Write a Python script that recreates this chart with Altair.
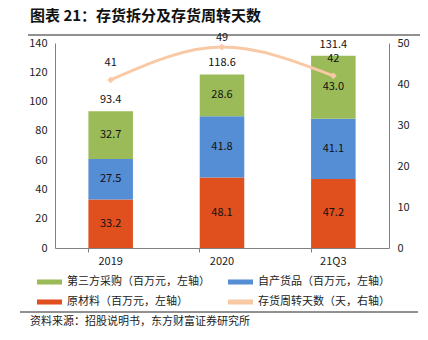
import altair as alt
import pandas as pd

years = ["2019", "2020", "21Q3"]
raw_material = [33.2, 48.1, 47.2]
own_goods = [27.5, 41.8, 41.1]
third_party = [32.7, 28.6, 43.0]
totals = [93.4, 118.6, 131.4]
turnover_days = [41, 49, 42]
series = ["第三方采购（百万元，左轴）", "自产货品（百万元，左轴）",
          "原材料（百万元，左轴）", "存货周转天数（天，右轴）"]
colors = ["#9BBB59", "#558ED5", "#E0501E", "#F9C9A6"]
left_ticks = [0, 20, 40, 60, 80, 100, 120, 140]
right_ticks = [0, 10, 20, 30, 40, 50]

FONT = "Noto Sans CJK SC"

rows = []
for i, y in enumerate(years):
    rows.append({"year": y, "series": series[2], "value": raw_material[i], "rank": 0})
    rows.append({"year": y, "series": series[1], "value": own_goods[i], "rank": 1})
    rows.append({"year": y, "series": series[0], "value": third_party[i], "rank": 2})
bars_df = pd.DataFrame(rows)
tot_df = pd.DataFrame({"year": years, "total": totals})
line_df = pd.DataFrame({"year": years, "days": turnover_days, "series": series[3]})

xenc = alt.X("year:N", sort=years,
             scale=alt.Scale(paddingInner=0.6, paddingOuter=0.3),
             axis=alt.Axis(title=None, labelFontSize=11, labelColor="#222", labelFont=FONT,
                           domainColor="#808080", tickColor="#808080", tickSize=4,
                           bandPosition=0, labelPadding=3, labelAngle=0))

color_scale = alt.Scale(domain=series, range=colors)

rect_path = "M-1,-0.42L3.17,-0.42L3.17,0.42L-1,0.42Z"

legend = alt.Legend(
    orient="none", legendX=-18, legendY=233, columns=2, direction="horizontal", title=None,
    symbolType=rect_path, symbolSize=144, symbolStrokeWidth=0, symbolOpacity=1,
    labelFontSize=11, labelFont=FONT,
    labelColor="#222", labelLimit=400, columnPadding=18, rowPadding=9, labelOffset=18,
)

yleft = alt.Scale(domain=[0, 140])
left_axis = alt.Axis(title=None, values=left_ticks, labelFontSize=11, labelColor="#222",
                     labelFont=FONT, domainColor="#808080", ticks=False, labelPadding=8,
                     grid=False, labelOverlap=False, labelFlush=False)

bars = alt.Chart(bars_df).mark_bar().encode(
    x=xenc,
    y=alt.Y("value:Q", stack="zero", scale=yleft, axis=left_axis),
    color=alt.Color("series:N", scale=color_scale, legend=legend),
    order=alt.Order("rank:Q", sort="ascending"),
)

inner = alt.Chart(bars_df).transform_stack(
    stack="value", groupby=["year"], as_=["y0", "y1"], sort=[alt.SortField("rank")]
).transform_calculate(mid="(datum.y0 + datum.y1) / 2").mark_text(
    fontSize=11, font=FONT, color="#111", baseline="middle"
).encode(x=alt.X("year:N", sort=years), y=alt.Y("mid:Q", scale=yleft, axis=left_axis),
         text=alt.Text("value:Q", format=".1f"))

tot_text = alt.Chart(tot_df).mark_text(
    fontSize=11, font=FONT, color="#111", baseline="middle", dy=-11
).encode(x=alt.X("year:N", sort=years), y=alt.Y("total:Q", scale=yleft, axis=left_axis),
         text=alt.Text("total:Q", format=".1f"))

left = alt.layer(bars, inner, tot_text)

yright = alt.Scale(domain=[0, 50])
right_axis = alt.Axis(title=None, orient="right", values=right_ticks, labelFontSize=11,
                      labelColor="#222", labelFont=FONT, domainColor="#808080",
                      ticks=False, labelPadding=8, grid=False, labelOverlap=False,
                      labelFlush=False)

line = alt.Chart(line_df).mark_line(strokeWidth=3, interpolate="monotone").encode(
    x=alt.X("year:N", sort=years),
    y=alt.Y("days:Q", scale=yright, axis=right_axis),
    color=alt.Color("series:N", scale=color_scale, legend=legend),
)
pts = alt.Chart(line_df).mark_point(shape="diamond", filled=True, size=45, opacity=1).encode(
    x=alt.X("year:N", sort=years),
    y=alt.Y("days:Q", scale=yright, axis=right_axis),
    color=alt.Color("series:N", scale=color_scale, legend=legend),
)
line_text = alt.Chart(line_df).transform_filter("datum.year != '2020'").mark_text(
    fontSize=11, font=FONT, color="#111", baseline="middle", dy=-17
).encode(x=alt.X("year:N", sort=years), y=alt.Y("days:Q", scale=yright, axis=right_axis),
         text=alt.Text("days:Q"))
line_text_peak = alt.Chart(line_df).transform_filter("datum.year == '2020'").mark_text(
    fontSize=11, font=FONT, color="#111", baseline="middle", dy=-9
).encode(x=alt.X("year:N", sort=years), y=alt.Y("days:Q", scale=yright, axis=right_axis),
         text=alt.Text("days:Q"))

right = alt.layer(line, pts, line_text, line_text_peak)

one = pd.DataFrame({"k": [0]})
title = alt.Chart(one).mark_text(
    text="图表 21：存货拆分及存货周转天数", fontSize=15, fontWeight="bold", font=FONT,
    align="left", baseline="middle", color="#111"
).encode(x=alt.value(-25), y=alt.value(-27))

rule_top = alt.Chart(one).mark_rule(color="#222", strokeWidth=1, clip=False,
                                     orient="horizontal").encode(
    x=alt.value(-27), x2=alt.value(365), y=alt.value(-8))
rule_bot = alt.Chart(one).mark_rule(color="#222", strokeWidth=1, clip=False,
                                     orient="horizontal").encode(
    x=alt.value(-35), x2=alt.value(363), y=alt.value(269))
source = alt.Chart(one).mark_text(
    text="资料来源：招股说明书，东方财富证券研究所", fontSize=11, font=FONT,
    align="left", baseline="middle", color="#222"
).encode(x=alt.value(-25), y=alt.value(279))

deco = alt.layer(title, source, rule_top, rule_bot)

chart = alt.layer(deco, left, right).resolve_scale(
    y="independent"
).properties(
    width=334, height=205, autosize="none",
    padding={"left": 55, "top": 43, "right": 39, "bottom": 92},
    background="white",
).configure_view(stroke=None)

chart.save("out.html", embed_options={"renderer": "svg", "actions": False})
